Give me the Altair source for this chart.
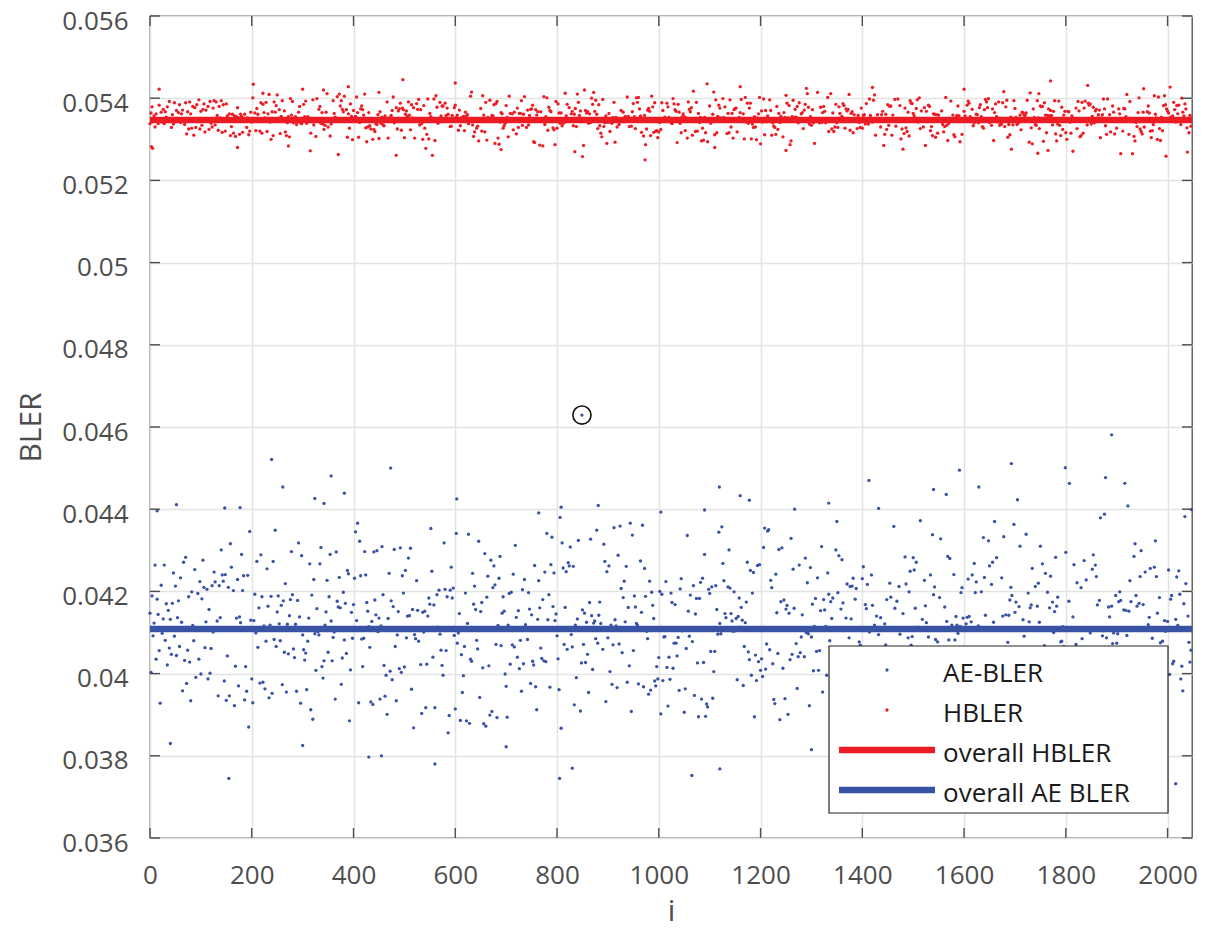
import altair as alt
import pandas as pd

# ---------------- data (BLER in units of 1e-5) ----------------
# Bulk of each cloud, sampled on even indices: line r (0..31) holds 32 values,
# value c of line r belongs to index i = 64*c + 2*r.
AE_BLER_E5 = [
    4147, 3958, 4223, 4239, 4080, 3889, 4171, 4102, 4305, 3996, 4156, 4118, 4062, 4261, 3932, 3975, 4196, 4027, 4134, 4350, 4089, 3911, 4158, 4212, 4043, 4015, 4282, 4126, 4079, 3948, 4093, 4185,
    4003, 4271, 4110, 3870, 4166, 4229, 4049, 4135, 3962, 4318, 4081, 4195, 4037, 3924, 4248, 4106, 4173, 4290, 3985, 4058, 4143, 3907, 4217, 4096, 4338, 4021, 3949, 4160, 4114, 4264, 3892, 4075,
    4189, 4032, 4128, 4346, 3973, 4097, 4251, 3938, 4156, 4205, 4060, 4023, 4180, 4118, 4087, 4274, 4013, 3896, 4139, 4227, 4108, 4301, 3957, 4044, 4192, 4121, 3984, 4167, 4066, 4236, 4152, 3915,
    4092, 4283, 3946, 4130, 4177, 4008, 4243, 4116, 3868, 4056, 4322, 4198, 4031, 3990, 4262, 4149, 4074, 3926, 4184, 4209, 4041, 4370, 4101, 3961, 4211, 4137, 4018, 4256, 3903, 4167, 4226, 4079,
    4123, 3976, 4214, 3987, 4052, 4158, 3885, 4309, 4095, 4187, 3942, 4070, 4247, 4133, 4005, 4361, 4168, 3919, 4113, 4024, 4281, 4197, 3963, 4146, 4083, 4230, 3880, 4108, 4295, 4040, 4175, 3994,
    4264, 4057, 4136, 3929, 4219, 4102, 4009, 4192, 4085, 3856, 4151, 4242, 4029, 4324, 4118, 3968, 4074, 4205, 4161, 3937, 4100, 4287, 4240, 4046, 4036, 4139, 4233, 3981, 4063, 4178, 3913, 4129,
    4035, 4187, 4301, 4129, 3955, 4094, 4149, 4020, 4226, 3898, 4173, 4065, 4341, 4112, 3974, 4256, 4043, 4195, 4130, 3927, 4221, 4002, 4166, 4284, 4077, 3866, 4140, 4212, 4059, 4379, 3992, 4103,
    4181, 4028, 4240, 4193, 4120, 4267, 4086, 3945, 4154, 4203, 4014, 4312, 4131, 3909, 4070, 4188, 4088, 4054, 3971, 4242, 4097, 4157, 3887, 4218, 4038, 4126, 4333, 3952, 4176, 4061, 4285, 4011,
    4144, 3934, 4225, 4099, 4048, 4307, 4168, 3996, 4079, 4259, 3878, 4137, 4192, 4026, 4355, 4103, 3959, 4211, 4066, 4148, 3922, 4277, 4118, 4033, 4185, 4240, 3925, 4164, 4001, 4092, 4316, 4127,
    4056, 4199, 3982, 4273, 4141, 4017, 4232, 3901, 4110, 4184, 4292, 4040, 3967, 4155, 4131, 4085, 4206, 3940, 4124, 4049, 4258, 4172, 3893, 4087, 4328, 4015, 4143, 4220, 3974, 4104, 4190, 4252,
    3928, 4117, 4241, 4064, 4180, 3989, 4345, 4134, 4022, 4208, 3872, 4153, 4265, 4071, 4116, 3950, 4231, 4005, 4174, 4302, 4089, 3918, 4140, 4199, 4037, 4268, 3976, 4125, 4057, 4388, 4164, 3998,
    4215, 4080, 3935, 4160, 4297, 4031, 4129, 4244, 3903, 4093, 4186, 4012, 4332, 4147, 3966, 4225, 4104, 4054, 4271, 3888, 4169, 4110, 4016, 4249, 3953, 4197, 4076, 4310, 4138, 3941, 4062, 4181,
    4098, 4253, 4043, 3977, 4192, 4118, 4366, 4006, 4149, 3914, 4237, 4081, 4163, 4027, 4288, 3960, 4108, 4214, 4053, 4175, 4007, 4135, 4095, 4069, 3993, 4223, 4142, 3876, 4265, 4087, 4171, 4190,
    4133, 3991, 4210, 4289, 4060, 4150, 3929, 4177, 4101, 4341, 4019, 3957, 4245, 4125, 4072, 4198, 3906, 4156, 4034, 4306, 4115, 4218, 3975, 4090, 4162, 4046, 4179, 4267, 3948, 4111, 4236, 4024,
    4264, 4108, 3946, 4187, 4039, 4227, 4322, 3985, 4152, 4074, 3899, 4204, 4129, 4047, 4359, 4166, 3963, 4096, 4251, 4013, 4183, 3927, 4136, 4282, 4058, 4116, 4210, 3889, 4071, 4162, 4299, 4030,
    4081, 4195, 4316, 3979, 4120, 4052, 4238, 4163, 3917, 4099, 4276, 4024, 4145, 3954, 4207, 4134, 4061, 4344, 3996, 4179, 4054, 4087, 4003, 4252, 4127, 3932, 4190, 4068, 4221, 4138, 3870, 4106,
    4170, 4035, 4259, 4116, 3957, 4187, 4084, 4302, 4023, 4146, 3908, 4229, 4092, 4173, 4051, 3982, 4336, 4122, 4196, 3939, 4233, 4212, 4063, 4159, 4285, 3995, 4107, 4244, 4041, 3921, 4168, 4132,
    4021, 4224, 4105, 3963, 4178, 4290, 4017, 4066, 4140, 3886, 4209, 4119, 4036, 4327, 4185, 3970, 4152, 4097, 4246, 4157, 4008, 4133, 3943, 4271, 4082, 4199, 4363, 4048, 3918, 4164, 4110, 4235,
    4154, 3999, 4202, 4079, 4318, 4128, 4086, 3934, 4184, 4046, 4262, 4107, 3961, 4141, 4225, 4017, 4091, 4357, 3895, 4166, 4056, 4213, 4121, 3976, 4280, 4035, 4149, 4198, 3909, 4073, 4247, 4117,
    4062, 4182, 3922, 4255, 4138, 4031, 4297, 4094, 4169, 3954, 4216, 4083, 4380, 4010, 4126, 3987, 4191, 4268, 4045, 3901, 4153, 4232, 4070, 4113, 3964, 4331, 4174, 4002, 4209, 4099, 3946, 4250,
    4132, 4276, 4018, 4164, 3928, 4088, 4240, 4151, 4353, 3995, 4071, 4197, 3867, 4123, 4261, 4039, 4106, 4226, 3983, 4147, 4309, 4054, 4180, 3916, 4118, 4234, 4027, 4160, 4085, 3972, 4021, 4193,
    4047, 4210, 4135, 3941, 4287, 4101, 4173, 4012, 4249, 4066, 3893, 4157, 4318, 4128, 3979, 4200, 4078, 4146, 4263, 4034, 3955, 4181, 4109, 4372, 4022, 4142, 3913, 4237, 4060, 4190, 4119, 3987,
    4171, 4063, 4229, 4118, 4094, 3938, 4152, 4306, 4040, 4196, 4117, 3976, 4257, 4085, 4161, 3902, 4214, 4136, 4029, 4329, 4180, 4207, 4052, 3961, 4241, 4105, 4163, 3924, 4275, 4074, 4137, 4018,
    4245, 4126, 3970, 4188, 4058, 4296, 4114, 4003, 4167, 3885, 4232, 4143, 4071, 4349, 4019, 4193, 3947, 4108, 4265, 4047, 4155, 3991, 4220, 4132, 4082, 3927, 4310, 4174, 4036, 4097, 4256, 3958,
    4091, 4205, 4138, 3952, 4033, 4176, 4064, 4238, 3917, 4122, 4285, 4030, 4161, 4074, 4366, 3983, 4145, 4211, 4008, 4254, 4115, 3896, 4186, 4051, 4139, 4323, 3966, 4100, 4228, 4175, 4042, 4170,
    4213, 3987, 4124, 4273, 4050, 4162, 3931, 4196, 4107, 4339, 4068, 4021, 4248, 4142, 3908, 4089, 4183, 4301, 4036, 4159, 3996, 4077, 3973, 4227, 4118, 4262, 4003, 4151, 3944, 4199, 4086, 4382,
    4044, 4156, 4290, 4083, 3961, 4234, 4127, 4016, 4192, 3879, 4147, 4263, 4059, 4174, 4337, 4090, 4026, 4208, 3993, 4111, 4245, 4069, 3937, 4165, 4098, 4012, 4131, 4283, 3956, 4178, 4040, 4219,
    4136, 4001, 4202, 4349, 4079, 4160, 3925, 4251, 4113, 4035, 4187, 3968, 4270, 4122, 4056, 4224, 3895, 4146, 4307, 4073, 4193, 4010, 4358, 4124, 3982, 4217, 4091, 4164, 4048, 3941, 4259, 4105,
    4177, 4061, 4238, 4066, 4135, 3974, 4296, 4087, 4203, 4030, 4152, 3912, 4262, 4108, 4189, 4015, 4183, 4128, 4354, 3964, 4080, 4231, 4159, 3887, 4115, 4271, 4043, 4186, 4099, 3950, 4323, 4140,
    4066, 4214, 3936, 4150, 4267, 4038, 4179, 4140, 4096, 4244, 3999, 4132, 4308, 4059, 4162, 3921, 4222, 4103, 4011, 4041, 4175, 4260, 3958, 4089, 4197, 4125, 4339, 4027, 3980, 4155, 4236, 4076,
    4233, 4101, 4017, 4189, 3912, 4198, 4143, 4281, 4057, 4169, 3969, 4226, 4095, 4315, 4122, 4040, 3938, 4199, 4072, 4264, 4134, 3887, 4176, 4045, 4209, 4370, 4112, 3990, 4254, 4063, 4147, 4028,
    4125, 4247, 3957, 4121, 4191, 4082, 4299, 4141, 4020, 4213, 3894, 4160, 4065, 4273, 4118, 3986, 4232, 4104, 4347, 4051, 4184, 4168, 4009, 4240, 4135, 3915, 4196, 4077, 4289, 4154, 4031, 4057,
]

HBLER_E5 = [
    5338, 5371, 5335, 5352, 5314, 5396, 5345, 5360, 5323, 5381, 5349, 5306, 5367, 5333, 5357, 5402, 5341, 5298, 5376, 5350, 5362, 5319, 5387, 5344, 5331, 5368, 5355, 5293, 5378, 5340, 5409, 5326,
    5364, 5347, 5391, 5311, 5356, 5335, 5372, 5302, 5384, 5349, 5327, 5405, 5343, 5361, 5290, 5374, 5338, 5353, 5318, 5396, 5365, 5330, 5348, 5382, 5309, 5357, 5342, 5413, 5324, 5369, 5351, 5297,
    5379, 5336, 5358, 5320, 5394, 5346, 5305, 5367, 5352, 5388, 5332, 5363, 5284, 5375, 5341, 5357, 5399, 5316, 5349, 5370, 5326, 5385, 5337, 5301, 5362, 5345, 5391, 5328, 5359, 5373, 5312, 5354,
    5343, 5389, 5322, 5366, 5350, 5307, 5362, 5339, 5377, 5358, 5296, 5348, 5404, 5331, 5363, 5317, 5386, 5345, 5353, 5310, 5371, 5340, 5398, 5325, 5361, 5383, 5334, 5289, 5368, 5352, 5392, 5321,
    5357, 5313, 5380, 5342, 5369, 5399, 5327, 5354, 5303, 5376, 5345, 5362, 5336, 5410, 5319, 5351, 5372, 5294, 5365, 5340, 5385, 5329, 5358, 5347, 5305, 5393, 5338, 5374, 5316, 5360, 5349, 5382,
    5330, 5367, 5352, 5401, 5318, 5344, 5386, 5335, 5351, 5361, 5375, 5323, 5355, 5390, 5341, 5308, 5368, 5349, 5397, 5332, 5344, 5379, 5346, 5314, 5360, 5388, 5337, 5353, 5300, 5371, 5343, 5406,
    5362, 5325, 5394, 5348, 5309, 5373, 5356, 5333, 5387, 5344, 5320, 5366, 5401, 5358, 5339, 5358, 5292, 5381, 5350, 5329, 5411, 5363, 5342, 5376, 5315, 5355, 5389, 5336, 5368, 5304, 5347, 5384,
    5351, 5391, 5317, 5364, 5340, 5380, 5299, 5357, 5373, 5331, 5406, 5346, 5322, 5369, 5353, 5287, 5385, 5339, 5362, 5312, 5378, 5348, 5395, 5328, 5359, 5343, 5416, 5334, 5367, 5352, 5307, 5374,
    5338, 5362, 5384, 5321, 5355, 5339, 5370, 5346, 5397, 5332, 5359, 5313, 5378, 5343, 5390, 5325, 5366, 5351, 5301, 5380, 5337, 5356, 5408, 5319, 5347, 5373, 5331, 5394, 5342, 5360, 5296, 5369,
    5383, 5327, 5350, 5375, 5306, 5365, 5344, 5391, 5335, 5358, 5318, 5376, 5370, 5349, 5293, 5371, 5339, 5361, 5402, 5324, 5355, 5387, 5310, 5366, 5345, 5333, 5379, 5352, 5315, 5398, 5341, 5364,
    5348, 5380, 5320, 5361, 5399, 5337, 5356, 5303, 5372, 5344, 5390, 5329, 5367, 5285, 5353, 5375, 5316, 5415, 5342, 5363, 5334, 5382, 5351, 5308, 5369, 5340, 5395, 5326, 5357, 5374, 5331, 5347,
    5366, 5310, 5386, 5345, 5359, 5324, 5403, 5352, 5338, 5377, 5298, 5363, 5343, 5420, 5330, 5368, 5355, 5311, 5388, 5341, 5372, 5327, 5360, 5394, 5336, 5350, 5305, 5381, 5346, 5333, 5365, 5354,
    5342, 5377, 5357, 5320, 5392, 5334, 5365, 5349, 5300, 5383, 5353, 5363, 5328, 5370, 5345, 5309, 5362, 5396, 5339, 5356, 5340, 5374, 5347, 5388, 5318, 5361, 5336, 5379, 5351, 5312, 5401, 5344,
    5373, 5329, 5351, 5389, 5340, 5366, 5305, 5358, 5382, 5353, 5347, 5394, 5323, 5364, 5336, 5405, 5355, 5316, 5376, 5343, 5290, 5369, 5350, 5387, 5331, 5360, 5311, 5380, 5346, 5398, 5325, 5357,
    5338, 5384, 5362, 5315, 5352, 5411, 5341, 5370, 5327, 5359, 5395, 5334, 5287, 5367, 5348, 5379, 5321, 5356, 5388, 5306, 5345, 5373, 5330, 5363, 5402, 5340, 5354, 5295, 5376, 5349, 5319, 5390,
    5367, 5343, 5309, 5385, 5355, 5330, 5374, 5403, 5346, 5322, 5347, 5361, 5392, 5339, 5370, 5317, 5352, 5383, 5301, 5365, 5348, 5409, 5360, 5357, 5334, 5377, 5344, 5389, 5326, 5360, 5313, 5372,
    5354, 5396, 5331, 5365, 5336, 5349, 5381, 5340, 5312, 5371, 5358, 5404, 5327, 5362, 5345, 5389, 5303, 5376, 5337, 5353, 5414, 5322, 5368, 5347, 5297, 5384, 5335, 5359, 5392, 5318, 5366, 5342,
    5379, 5325, 5361, 5352, 5350, 5308, 5372, 5344, 5398, 5333, 5357, 5344, 5386, 5341, 5366, 5320, 5391, 5352, 5329, 5407, 5345, 5363, 5285, 5375, 5339, 5355, 5394, 5316, 5369, 5348, 5330, 5382,
    5346, 5368, 5315, 5390, 5366, 5337, 5359, 5377, 5301, 5352, 5384, 5329, 5364, 5400, 5343, 5321, 5373, 5349, 5355, 5388, 5340, 5367, 5312, 5396, 5350, 5331, 5375, 5358, 5306, 5381, 5344, 5362,
    5392, 5334, 5357, 5319, 5380, 5346, 5410, 5325, 5363, 5349, 5290, 5371, 5339, 5385, 5356, 5304, 5367, 5399, 5330, 5352, 5378, 5316, 5361, 5342, 5393, 5327, 5353, 5374, 5309, 5366, 5345, 5383,
    5351, 5373, 5307, 5362, 5340, 5394, 5328, 5369, 5355, 5356, 5387, 5335, 5364, 5414, 5346, 5318, 5377, 5353, 5299, 5382, 5341, 5360, 5324, 5401, 5348, 5372, 5336, 5357, 5390, 5313, 5367, 5344,
    5329, 5386, 5355, 5409, 5338, 5363, 5294, 5374, 5347, 5321, 5392, 5358, 5333, 5368, 5403, 5341, 5310, 5379, 5352, 5287, 5365, 5345, 5384, 5326, 5359, 5397, 5339, 5370, 5315, 5350, 5381, 5336,
    5360, 5318, 5377, 5342, 5422, 5354, 5330, 5388, 5348, 5366, 5303, 5373, 5339, 5395, 5356, 5324, 5417, 5345, 5362, 5296, 5380, 5351, 5334, 5369, 5311, 5391, 5343, 5358, 5376, 5327, 5364, 5400,
    5337, 5371, 5352, 5300, 5385, 5344, 5365, 5322, 5398, 5357, 5288, 5374, 5341, 5361, 5331, 5389, 5349, 5314, 5402, 5355, 5368, 5326, 5380, 5346, 5306, 5377, 5359, 5335, 5393, 5350, 5320, 5366,
    5389, 5345, 5312, 5367, 5355, 5404, 5333, 5376, 5297, 5360, 5342, 5383, 5412, 5326, 5351, 5370, 5319, 5363, 5289, 5395, 5340, 5358, 5381, 5330, 5353, 5399, 5323, 5368, 5346, 5374, 5304, 5357,
    5343, 5380, 5361, 5309, 5393, 5350, 5325, 5372, 5406, 5338, 5365, 5294, 5357, 5384, 5332, 5347, 5390, 5316, 5369, 5353, 5350, 5341, 5310, 5377, 5358, 5341, 5366, 5394, 5335, 5362, 5321, 5386,
    5370, 5324, 5356, 5391, 5339, 5410, 5349, 5304, 5378, 5345, 5362, 5292, 5385, 5333, 5367, 5354, 5320, 5396, 5342, 5373, 5402, 5329, 5359, 5285, 5381, 5347, 5364, 5313, 5388, 5351, 5336, 5374,
    5348, 5392, 5317, 5366, 5355, 5381, 5300, 5361, 5339, 5405, 5327, 5372, 5350, 5315, 5387, 5343, 5363, 5330, 5398, 5354, 5319, 5376, 5345, 5368, 5357, 5334, 5359, 5296, 5383, 5351, 5406, 5328,
    5365, 5339, 5345, 5382, 5352, 5394, 5324, 5369, 5346, 5415, 5333, 5359, 5377, 5306, 5355, 5388, 5341, 5363, 5311, 5380, 5350, 5327, 5397, 5343, 5294, 5374, 5358, 5337, 5386, 5320, 5361, 5347,
    5384, 5330, 5361, 5408, 5344, 5373, 5319, 5356, 5390, 5335, 5339, 5367, 5349, 5397, 5326, 5379, 5353, 5303, 5370, 5340, 5411, 5358, 5332, 5383, 5346, 5297, 5364, 5393, 5337, 5375, 5352, 5316,
    5341, 5376, 5348, 5350, 5315, 5367, 5338, 5391, 5357, 5307, 5382, 5345, 5362, 5331, 5401, 5353, 5296, 5372, 5343, 5389, 5325, 5360, 5349, 5380, 5312, 5365, 5395, 5334, 5356, 5374, 5300, 5358,
    5362, 5394, 5329, 5372, 5345, 5405, 5336, 5359, 5381, 5318, 5353, 5286, 5368, 5340, 5390, 5348, 5327, 5375, 5357, 5350, 5364, 5337, 5398, 5321, 5351, 5386, 5344, 5309, 5378, 5355, 5403, 5332,
]

# Isolated points (index, BLER in 1e-5)
AE_EXTRA_I = [14, 52, 147, 177, 239, 261, 324, 342, 356, 382, 473, 603, 764, 808, 881, 1004, 1090, 1119,
              1160, 1178, 1267, 1334, 1413, 1432, 1540, 1565, 1591, 1629, 1693, 1705, 1799, 1807, 1878,
              1890, 1916, 1922, 2047,
              155, 430, 455, 560, 805, 830, 1065, 1120, 1985, 2016, 40, 300, 700, 1300, 1560, 1750]
AE_EXTRA_E5 = [4396, 4411, 4403, 4404, 4521, 4454, 4426, 4414, 4481, 4439, 4500, 4425, 4391, 4405, 4409, 4393, 4398, 4454,
               4433, 4422, 4400, 4415, 4470, 4402, 4448, 4436, 4495, 4454, 4511, 4423, 4501, 4463, 4477,
               4581, 4463, 4408, 4399,
               3745, 3797, 3800, 3780, 3745, 3770, 3752, 3768, 3800, 3732, 3830, 3825, 3822, 3815, 3828, 3820]
HB_EXTRA_I = [18, 203, 222, 341, 390, 450, 497, 600, 1095, 1160, 1290, 1420, 1600, 1747, 1770, 1843, 1953, 2005,
              3, 5, 172, 272, 315, 370, 484, 542, 555, 690, 835, 850, 973, 1110, 1250, 1480, 1693, 1745, 1765,
              1814, 1908, 1931, 1997, 2039]
HB_EXTRA_E5 = [5422, 5434, 5412, 5420, 5428, 5414, 5445, 5437, 5435, 5428, 5424, 5426, 5422, 5411, 5442, 5431, 5423, 5427,
               5282, 5278, 5280, 5284, 5272, 5263, 5261, 5278, 5261, 5275, 5270, 5258, 5250, 5280, 5273, 5276, 5276, 5266, 5273,
               5271, 5265, 5265, 5259, 5269]

OVERALL_HBLER = 0.05347
OVERALL_AE_BLER = 0.041085
OUTLIER_I = [849]
OUTLIER_BLER = [0.04629]

X_DOMAIN = [0, 2048]
Y_DOMAIN = [0.036, 0.056]
X_TICKS = [0, 200, 400, 600, 800, 1000, 1200, 1400, 1600, 1800, 2000]
Y_TICKS = [0.036, 0.038, 0.040, 0.042, 0.044, 0.046, 0.048, 0.050, 0.052, 0.054, 0.056]
LEGEND_LABELS = ["AE-BLER", "HBLER", "overall HBLER", "overall AE BLER"]

# ---------------- style ----------------
BLUE = "#3953A4"
RED = "#ED1C24"
AXIS_GRAY = "#4D4D4D"
FONT = "Open Sans"
W, H = 1042, 822
DOT = 11
COLS = 32


def to_frame(bulk, extra_i, extra_v):
    idx = [64 * (k % COLS) + 2 * (k // COLS) for k in range(len(bulk))] + list(extra_i)
    vals = [v / 1e5 for v in list(bulk) + list(extra_v)]
    return pd.DataFrame({"i": idx, "bler": vals})


ae_df = to_frame(AE_BLER_E5, AE_EXTRA_I, AE_EXTRA_E5)
hb_df = to_frame(HBLER_E5, HB_EXTRA_I, HB_EXTRA_E5)
mean_df = pd.DataFrame({"bler": [OVERALL_HBLER, OVERALL_AE_BLER],
                        "series": ["overall HBLER", "overall AE BLER"]})
out_df = pd.DataFrame({"i": OUTLIER_I, "bler": OUTLIER_BLER})
xt_df = pd.DataFrame({"i": X_TICKS})
yt_df = pd.DataFrame({"bler": Y_TICKS})
one = pd.DataFrame({"k": [0]})

xs = alt.Scale(domain=X_DOMAIN, nice=False, zero=False)
ys = alt.Scale(domain=Y_DOMAIN, nice=False, zero=False)

x_axis = alt.Axis(values=X_TICKS, format="d", title="i", grid=True, labelFlush=False,
                  titleX=W / 2, titleY=82, titleBaseline="alphabetic", labelPadding=24)
y_axis = alt.Axis(values=Y_TICKS, labelExpr="format(datum.value, '.3~f')", title="BLER",
                  grid=True, labelFlush=False, labelOffset=5,
                  titleX=-110, titleY=H / 2, titleBaseline="alphabetic",
                  titleAngle=-90, labelPadding=22)


def X():
    return alt.X("i:Q", scale=xs, axis=x_axis)


def Y():
    return alt.Y("bler:Q", scale=ys, axis=y_axis)


ae_pts = alt.Chart(ae_df).mark_circle(size=DOT, opacity=1, color=BLUE).encode(x=X(), y=Y())
hb_pts = alt.Chart(hb_df).mark_circle(size=DOT, opacity=1, color=RED).encode(x=X(), y=Y())
mean_lines = alt.Chart(mean_df).mark_rule(strokeWidth=6.5).encode(
    y=Y(),
    color=alt.Color("series:N", scale=alt.Scale(domain=["overall HBLER", "overall AE BLER"],
                                                range=[RED, BLUE]), legend=None),
)
out_dot = alt.Chart(out_df).mark_circle(size=DOT, opacity=1, color=BLUE).encode(x=X(), y=Y())
out_ring = alt.Chart(out_df).mark_point(size=330, shape="circle", filled=False,
                                        color="#111111", strokeWidth=1.6, opacity=1).encode(x=X(), y=Y())

TICK = 10
tick_style = dict(color=AXIS_GRAY, strokeWidth=1.4)
ticks_b = alt.Chart(xt_df).mark_rule(**tick_style).encode(x=X(), y=alt.value(H), y2=alt.value(H - TICK))
ticks_t = alt.Chart(xt_df).mark_rule(**tick_style).encode(x=X(), y=alt.value(0), y2=alt.value(TICK))
ticks_l = alt.Chart(yt_df).mark_rule(**tick_style).encode(y=Y(), x=alt.value(0), x2=alt.value(TICK))
ticks_r = alt.Chart(yt_df).mark_rule(**tick_style).encode(y=Y(), x=alt.value(W), x2=alt.value(W - TICK))

# ---------------- legend (drawn as marks) ----------------
LX0, LX1, LY0, LY1 = 679, 1018, 630, 797
ROW0, ROW_STEP = 666, 40
legend_layers = [
    alt.Chart(one).mark_rect(fill="white", stroke="#262626", strokeWidth=1.2).encode(
        x=alt.value(LX0), x2=alt.value(LX1), y=alt.value(LY0), y2=alt.value(LY1))
]
sym_colors = [BLUE, RED, RED, BLUE]
for k, lab in enumerate(LEGEND_LABELS):
    base_y = ROW0 + ROW_STEP * k
    if k < 2:
        legend_layers.append(alt.Chart(one).mark_circle(size=DOT, opacity=1, color=sym_colors[k]).encode(
            x=alt.value(737), y=alt.value(base_y - 12)))
    else:
        legend_layers.append(alt.Chart(one).mark_rule(strokeWidth=6.5, color=sym_colors[k]).encode(
            x=alt.value(689), x2=alt.value(785), y=alt.value(base_y - 12)))
    legend_layers.append(alt.Chart(one).mark_text(
        text=lab, align="left", baseline="alphabetic", font=FONT, fontSize=26, color="#1A1A1A").encode(
        x=alt.value(793), y=alt.value(base_y)))

chart = alt.layer(
    ae_pts, hb_pts, mean_lines, out_dot, out_ring,
    ticks_b, ticks_t, ticks_l, ticks_r, *legend_layers
).properties(
    width=W, height=H,
    autosize=alt.AutoSizeParams(type="none"),
    padding={"left": 142, "top": 8, "right": 8, "bottom": 90},
).configure_view(
    stroke=AXIS_GRAY, strokeWidth=1.3
).configure_axis(
    domain=False, ticks=False, gridColor="#E3E3E3", gridWidth=1.5,
    labelFont=FONT, labelFontSize=26, labelColor=AXIS_GRAY,
    titleFont=FONT, titleFontSize=30, titleFontWeight="normal", titleColor=AXIS_GRAY,
)

chart.save("out.html", embed_options={"renderer": "svg", "actions": False})
